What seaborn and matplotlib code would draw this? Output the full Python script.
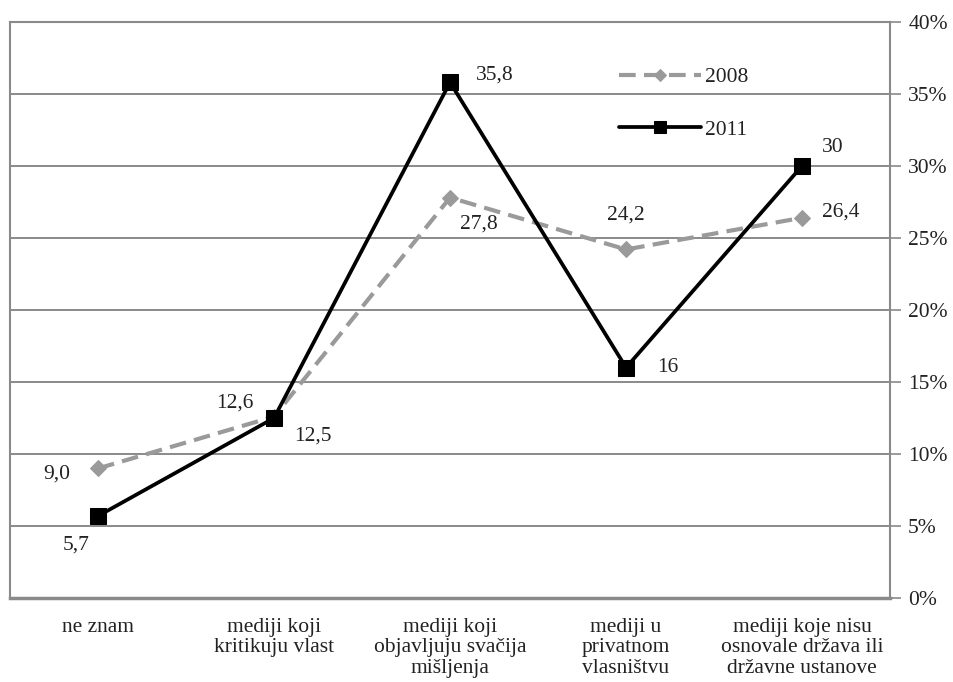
import pandas as pd
import matplotlib.pyplot as plt
import seaborn as sns
from matplotlib.ticker import FuncFormatter

kategorije = ['ne znam', 'mediji koji\nkritikuju vlast', 'mediji koji\nobjavljuju svačija\nmišljenja',
              'mediji u\nprivatnom\nvlasništvu', 'mediji koje nisu\nosnovale država ili\ndržavne ustanove']
god_2008 = [9.0, 12.6, 27.8, 24.2, 26.4]
god_2011 = [5.7, 12.5, 35.8, 16, 30]
oznake_2008 = ['9,0', '12,6', '27,8', '24,2', '26,4']
oznake_2011 = ['5,7', '12,5', '35,8', '16', '30']

df = pd.DataFrame({'x': list(range(len(kategorije))) * 2,
                   'vrijednost': god_2008 + god_2011,
                   'godina': ['2008'] * 5 + ['2011'] * 5})

sns.set_style('white')
plt.rcParams['font.family'] = ['Liberation Serif', 'DejaVu Serif']

fig = plt.figure(figsize=(9.54, 6.82), dpi=100)
ax = fig.add_axes([0.0105, 0.123, 0.9225, 0.845])

siva = '#9a9a9a'
sns.lineplot(data=df[df.godina == '2008'], x='x', y='vrijednost', ax=ax, color=siva,
             linestyle=(0, (4, 2)), linewidth=3, marker='D', markersize=8,
             markeredgecolor=siva, label='2008')
sns.lineplot(data=df[df.godina == '2011'], x='x', y='vrijednost', ax=ax, color='black',
             linewidth=2.7, marker='s', markersize=12, markeredgecolor='black', label='2011')

# oznake vrijednosti
pomaci_2008 = [(-30, -4), (-28, 10), (21, -19), (0, 25), (28, 4)]
pomaci_2011 = [(-16, -21), (28, -13), (32, 5), (30, 0), (22, 13)]
for i, (v, t) in enumerate(zip(god_2008, oznake_2008)):
    ax.annotate(t, (i, v), xytext=pomaci_2008[i], textcoords='offset points',
                ha='center', va='center', fontsize=15.5, color='#222222')
for i, (v, t) in enumerate(zip(god_2011, oznake_2011)):
    ax.annotate(t, (i, v), xytext=pomaci_2011[i], textcoords='offset points',
                ha='center', va='center', fontsize=15.5, color='#222222')

ax.set_xlim(-0.5, 4.5)
ax.set_ylim(0, 40)
ax.set_yticks(range(0, 41, 5))
ax.yaxis.set_major_formatter(FuncFormatter(lambda v, p: f'{int(v)}%'))
ax.yaxis.tick_right()
ax.yaxis.grid(True, color='#8a8a8a', linewidth=1.4)
ax.set_xticks(range(len(kategorije)))
ax.set_xticklabels(kategorije, fontsize=15.5, linespacing=1.12, color='#222222')
ax.set_xticks([k + 0.5 for k in range(4)], minor=True)
ax.tick_params(axis='x', which='major', length=0, pad=14)
ax.tick_params(axis='x', which='minor', length=6, color='#8a8a8a', width=1.2)
ax.tick_params(axis='y', length=8, color='#8a8a8a', width=1.2, labelsize=15.5,
               labelcolor='#222222', pad=5)
ax.set_xlabel('')
ax.set_ylabel('')
for s in ax.spines.values():
    s.set_color('#8a8a8a')
    s.set_linewidth(1.5)
ax.spines['bottom'].set_linewidth(2.5)

leg = ax.legend(loc='upper left', bbox_to_anchor=(0.67, 0.955), frameon=False, fontsize=15.5,
                handlelength=3.8, labelspacing=1.5, markerscale=0.75, handletextpad=0.2)
for t in leg.get_texts():
    t.set_color('#222222')

fig.savefig('out.png', dpi=100)
